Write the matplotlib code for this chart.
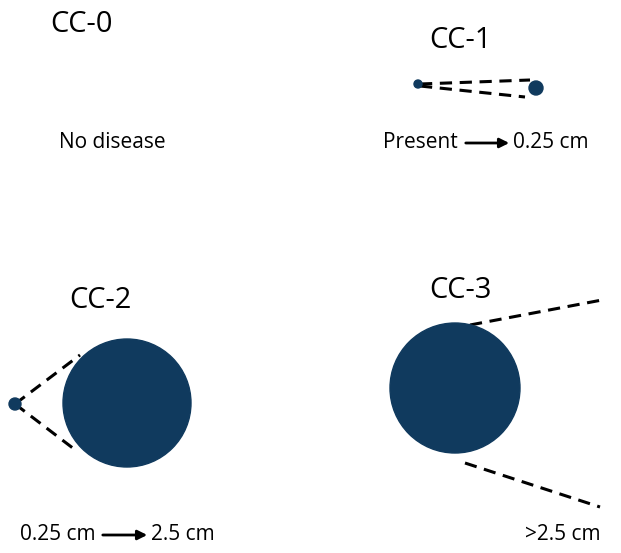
import matplotlib.pyplot as plt
from matplotlib.patches import Circle

W, H = 621, 553
navy = '#103a5e'

# stage titles and captions (pixel positions, y down)
titles = ['CC-0', 'CC-1', 'CC-2', 'CC-3']
title_xy = [(82, 25), (460, 40), (100, 300), (460, 290)]
captions = ['No disease', '>2.5 cm']
caption_xy = [(112, 143), (563, 535)]

# circles: (x, y, r)
circles = [(418, 84, 4), (536, 88, 7), (15, 404, 6), (127, 403, 64), (455, 388, 65)]
# dashed lines: (x0, y0, x1, y1)
dashes = [(420, 84, 530, 80), (420, 86, 525, 97),
          (15, 404, 80, 355), (15, 404, 78, 452),
          (470, 325, 602, 300), (465, 463, 600, 507)]
# arrow captions: (left text, right text, y, left text right edge, arrow x0, x1)
arrow_caps = [('Present', '0.25 cm', 143, 458, 463, 512),
              ('0.25 cm', '2.5 cm', 535, 96, 100, 150)]

fig = plt.figure(figsize=(W / 100, H / 100), dpi=100)
ax = fig.add_axes([0, 0, 1, 1])
ax.set_xlim(0, W)
ax.set_ylim(H, 0)
ax.axis('off')

for t, (x, y) in zip(titles, title_xy):
    ax.text(x, y, t, fontsize=21, ha='center', va='center', family='Open Sans')
for t, (x, y) in zip(captions, caption_xy):
    ax.text(x, y, t, fontsize=15, ha='center', va='center', family='Open Sans')
for left, right, y, lx, x0, x1 in arrow_caps:
    ax.text(lx, y, left, fontsize=15, ha='right', va='center', family='Open Sans')
    ax.text(x1 + 1, y, right, fontsize=15, ha='left', va='center', family='Open Sans')
    ax.annotate('', xy=(x1, y), xytext=(x0, y),
                arrowprops=dict(arrowstyle='-|>', color='black', lw=2, mutation_scale=14))

for x0, y0, x1, y1 in dashes:
    ax.plot([x0, x1], [y0, y1], color='black', lw=2.2, ls=(0, (4, 2.5)))
for x, y, r in circles:
    ax.add_patch(Circle((x, y), r, color=navy, zorder=3))

fig.savefig('out.png', dpi=100)
